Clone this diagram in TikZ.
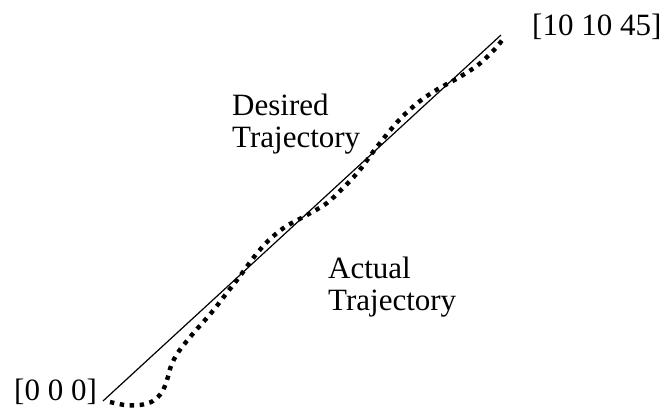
\documentclass[tikz,border=0pt]{standalone}
\usepackage{fontspec}
\setmainfont{Liberation Serif}
\begin{document}
\begin{tikzpicture}[x=1pt,y=-1pt,
  lbl/.style={font=\fontsize{31}{32}\selectfont, inner sep=0pt, align=left},
  desired/.style={line width=1.2pt},
  actual/.style={line width=4.4pt, line cap=butt, dash pattern=on 4.4pt off 5.6pt}]
  \useasboundingbox (0,0) rectangle (665,408);

  % end points of the desired path
  \coordinate (p0) at (103,401);
  \coordinate (p1) at (501,35);

  % labels
  \node[lbl, anchor=base west] (start) at (14,400) {[0 0 0]};
  \node[lbl, anchor=base west] (goal) at (532,35) {[10 10 45]};
  \node[lbl, anchor=north west] (desiredlbl) at (232,94) {Desired\\Trajectory};
  \node[lbl, anchor=north west] (actuallbl) at (328,257) {Actual\\Trajectory};

  % desired trajectory
  \draw[desired] (p0) -- (p1);

  % actual trajectory
  \draw[actual] plot[smooth, tension=0.55] coordinates {
    (110,402) (125,405) (140,405) (153,401) (162,392) (167,380) (171,366)
    (177,354) (186,342) (197,329) (212,312) (226,294) (240,276) (254,257)
    (268,241) (285,227) (307,215) (327,203) (343,188) (359,171) (373,152)
    (388,133) (402,117) (420,101) (438,89) (458,78) (478,65) (494,50) (503,39)};
\end{tikzpicture}
\end{document}
